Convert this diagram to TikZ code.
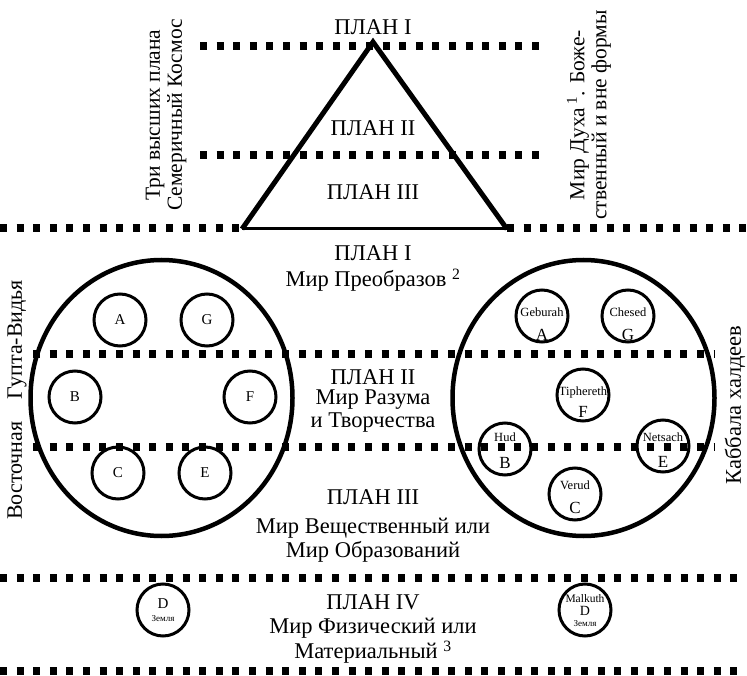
\documentclass[tikz,border=0pt]{standalone}
\usepackage{fontspec}
\setmainfont{Liberation Serif}
\usetikzlibrary{shapes.geometric}
\begin{document}
\begin{tikzpicture}[x=1pt,y=-1pt,
  dotrow/.style={line width=7.5pt, dash pattern=on 7pt off 9.6pt},
  bigc/.style={draw, ellipse, line width=4.5pt, minimum width=262pt, minimum height=276pt, inner sep=0pt},
  smallc/.style={draw, circle, line width=3pt, minimum size=52pt, inner sep=0pt},
  lab/.style={font=\fontsize{22.5}{24}\selectfont, inner sep=0pt},
  vlab/.style={font=\fontsize{21.5}{22}\selectfont, align=center, rotate=90, inner sep=0pt},
  letl/.style={font=\fontsize{15}{15}\selectfont, inner sep=0pt},
  letr/.style={font=\fontsize{17}{17}\selectfont, inner sep=0pt},
  namer/.style={font=\fontsize{12.5}{12.5}\selectfont, inner sep=0pt},
  earth/.style={font=\fontsize{9}{9}\selectfont, inner sep=0pt}]
\useasboundingbox (0,0) rectangle (747,676);
\fill[white] (0,0) rectangle (747,676);

% dotted plane boundaries
\draw[dotrow] (200,46) -- (547,46);
\draw[dotrow] (200,155) -- (547,155);
\draw[dotrow] (0,228) -- (240,228);
\draw[dotrow] (507,228) -- (747,228);
\draw[dotrow] (33,354) -- (714,354);
\draw[dotrow] (33,447) -- (714,447);
\draw[dotrow] (0,578) -- (747,578);
\draw[dotrow] (0,671) -- (747,671);

% triangle
\coordinate (apex) at (373,42);
\coordinate (bl) at (242,229);
\coordinate (br) at (507,229);
\draw[line width=5pt, line join=miter] (bl) -- (apex) -- (br);
\draw[line width=3pt] (bl) -- (br);

% top labels
\node[lab] (p1t) at (373,27) {ПЛАН I};
\node[lab] (p2t) at (373,128) {ПЛАН II};
\node[lab] (p3t) at (373,192) {ПЛАН III};
\node[vlab] (lefttop) at (166,115) {Три высших плана\\Семеричный Космос};
\node[vlab] (righttop) at (589,115) {Мир Духа\,\textsuperscript{1}. Боже-\\ственный и вне формы};

% middle labels
\node[lab] (p1) at (373,253) {ПЛАН I};
\node[lab] (p1b) at (373,280) {Мир Преобразов \textsuperscript{2}};
\node[lab] (p2) at (373,377) {ПЛАН II};
\node[lab] (p2b) at (373,400) {Мир Разума};
\node[lab] (p2c) at (373,423) {и Творчества};
\node[lab] (p3) at (373,497) {ПЛАН III};
\node[lab] (p3b) at (373,528) {Мир Вещественный или};
\node[lab] (p3c) at (373,552) {Мир Образований};
\node[lab] (p4) at (373,602) {ПЛАН IV};
\node[lab] (p4b) at (373,628) {Мир Физический или};
\node[lab] (p4c) at (373,652) {Материальный \textsuperscript{3}};

% side labels
\node[vlab, font=\fontsize{22}{22}\selectfont] (gupta) at (17,400) {Восточная\quad Гупта-Видья};
\node[vlab, font=\fontsize{22.5}{22}\selectfont] (kabb) at (735,405) {Каббала халдеев};

% big circles
\node[bigc] (lc) at (161.5,398) {};
\node[bigc] (rc) at (583.5,398) {};

% left small circles
\node[smallc] (la) at (120,320) {};
\node[letl] at (la) {A};
\node[smallc] (lg) at (207,320) {};
\node[letl] at (lg) {G};
\node[smallc] (lb) at (75,397) {};
\node[letl] at (lb) {B};
\node[smallc] (lf) at (250,397) {};
\node[letl] at (lf) {F};
\node[smallc] (lcc) at (118,473) {};
\node[letl] at (lcc) {C};
\node[smallc] (le) at (205,473) {};
\node[letl] at (le) {E};

% right small circles
\node[smallc] (geb) at (542,316) {};
\node[namer] (gebn) at (542,312) {Geburah};
\node[letr] (gebl) at (542,335) {A};
\node[smallc] (che) at (628,316) {};
\node[namer] (chen) at (628,312) {Chesed};
\node[letr] (chel) at (628,335) {G};
\node[smallc] (tip) at (583,395) {};
\node[namer] (tipn) at (583,392) {Tiphereth};
\node[letr] (tipl) at (583,412) {F};
\node[smallc] (hud) at (505,449) {};
\node[namer] (hudn) at (505,437) {Hud};
\node[letr] (hudl) at (505,463) {B};
\node[smallc] (net) at (663,446) {};
\node[namer] (netn) at (663,437) {Netsach};
\node[letr] (netl) at (663,462) {E};
\node[smallc] (ver) at (575,494) {};
\node[namer] (vern) at (575,485) {Verud};
\node[letr] (verl) at (575,508) {C};

% bottom circles
\node[smallc] (ld) at (163,610) {};
\node[letl] (ldl) at (163,604) {D};
\node[earth] (lde) at (163,619) {Земля};
\node[smallc] (mal) at (585,610) {};
\node[namer, font=\fontsize{11.5}{11.5}\selectfont] (maln) at (585,598.5) {Malkuth};
\node[letr, font=\fontsize{14}{14}\selectfont] (mall) at (585,611) {D};
\node[earth] (male) at (585,623.5) {Земля};
\end{tikzpicture}
\end{document}
